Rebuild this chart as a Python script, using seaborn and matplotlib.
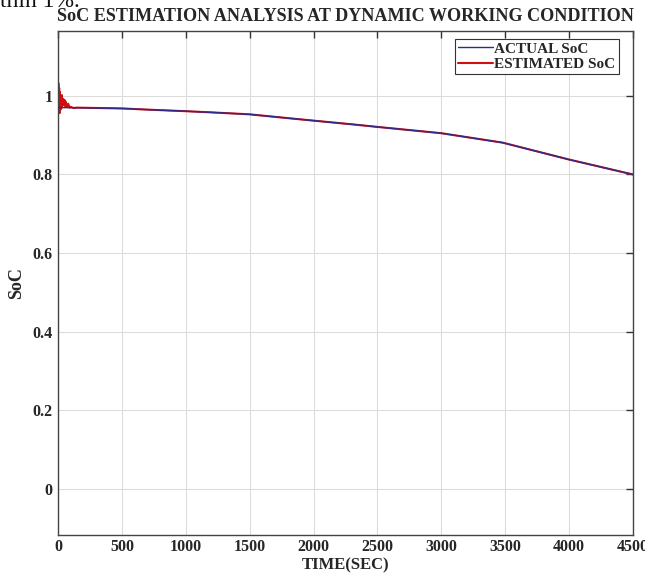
import numpy as np
import pandas as pd
import matplotlib
matplotlib.use("Agg")
import matplotlib.pyplot as plt
import seaborn as sns

# ---- data ----
actual_time = [0, 150, 330, 500, 700, 1000, 1200, 1500, 1810, 2000, 2320,
               2500, 3000, 3300, 3480, 4000, 4500]
actual_soc = [0.970, 0.970, 0.969, 0.968, 0.965, 0.961, 0.958, 0.953, 0.943,
              0.937, 0.927, 0.921, 0.905, 0.890, 0.881, 0.838, 0.800]

est_time = [0, 3, 6, 9, 12, 15, 18, 21, 25, 30, 35, 40, 45, 50, 55, 60, 70,
            80, 90, 100, 120, 150, 330, 500, 700, 1000, 1200, 1500, 1810,
            2000, 2320, 2500, 3000, 3300, 3480, 4000, 4500]
est_soc = [0.970, 1.032, 0.958, 1.020, 0.956, 1.010, 0.965, 1.000, 0.968,
           1.002, 0.975, 0.992, 0.978, 0.990, 0.974, 0.985, 0.972, 0.980,
           0.970, 0.972, 0.969, 0.970, 0.969, 0.968, 0.965, 0.961, 0.958,
           0.953, 0.943, 0.937, 0.927, 0.921, 0.905, 0.890, 0.881, 0.838,
           0.800]

x_ticks = [0, 500, 1000, 1500, 2000, 2500, 3000, 3500, 4000, 4500]
y_ticks = [0, 0.2, 0.4, 0.6, 0.8, 1.0]
y_tick_labels = ["0", "0.2", "0.4", "0.6", "0.8", "1"]

df_act = pd.DataFrame({"time": actual_time, "soc": actual_soc})
df_est = pd.DataFrame({"time": est_time, "soc": est_soc})

sns.set_theme(style="whitegrid")
plt.rcParams["font.family"] = ["Liberation Serif", "DejaVu Serif"]
plt.rcParams["font.weight"] = "bold"

fig = plt.figure(figsize=(6.45, 5.74), dpi=100)
# axes box: x 58..633 px, y 31..535 px
ax = fig.add_axes([58 / 645, 1 - 535 / 574, 575 / 645, 504 / 574])

sns.lineplot(data=df_act, x="time", y="soc", ax=ax, color="#2e2a8a",
             linewidth=1.0, label="ACTUAL SoC", zorder=3)
sns.lineplot(data=df_est, x="time", y="soc", ax=ax, color="#d01010",
             linewidth=1.5, label="ESTIMATED SoC", zorder=2)

ax.set_xlim(0, 4500)
ax.set_ylim(-0.117, 1.165)
ax.set_xticks(x_ticks)
ax.set_yticks(y_ticks)
ax.set_yticklabels(y_tick_labels)
ax.tick_params(direction="in", top=True, right=True, length=5, width=1,
               color="#333333", labelsize=11.5)
ax.tick_params(axis="x", pad=3)
ax.tick_params(axis="y", pad=4)
for lab in ax.get_xticklabels() + ax.get_yticklabels():
    lab.set_fontweight("bold")

ax.grid(True, color="#dcdcdc", linewidth=0.8)
for s in ax.spines.values():
    s.set_visible(True)
    s.set_color("#444444")
    s.set_linewidth(1.0)

ax.set_xlabel("TIME(SEC)", fontsize=12, fontweight="bold")
ax.xaxis.set_label_coords(0.5, -(573 - 535) / 504)
ax.xaxis.label.set_verticalalignment("bottom")
ax.set_ylabel("SoC", fontsize=13, fontweight="bold", va="center")
ax.yaxis.set_label_coords(-0.072, 0.5)
ax.set_title("SoC ESTIMATION ANALYSIS AT DYNAMIC WORKING CONDITION",
             fontsize=13.1, fontweight="bold", pad=7)

leg = ax.legend(loc="upper right", fontsize=11, frameon=True, fancybox=False,
                framealpha=1, edgecolor="#333333", borderpad=0.2,
                handlelength=2.3, handletextpad=0.1, labelspacing=0.1,
                borderaxespad=0.0, bbox_to_anchor=(0.975, 0.984))
leg.get_frame().set_linewidth(0.8)
for t in leg.get_texts():
    t.set_fontweight("bold")

fig.text(0.0, 1.0 - 7 / 574, "thin 1%.", fontsize=17, fontweight="normal",
         ha="left", va="baseline", color="#111111")

fig.savefig("out.png", dpi=100)
